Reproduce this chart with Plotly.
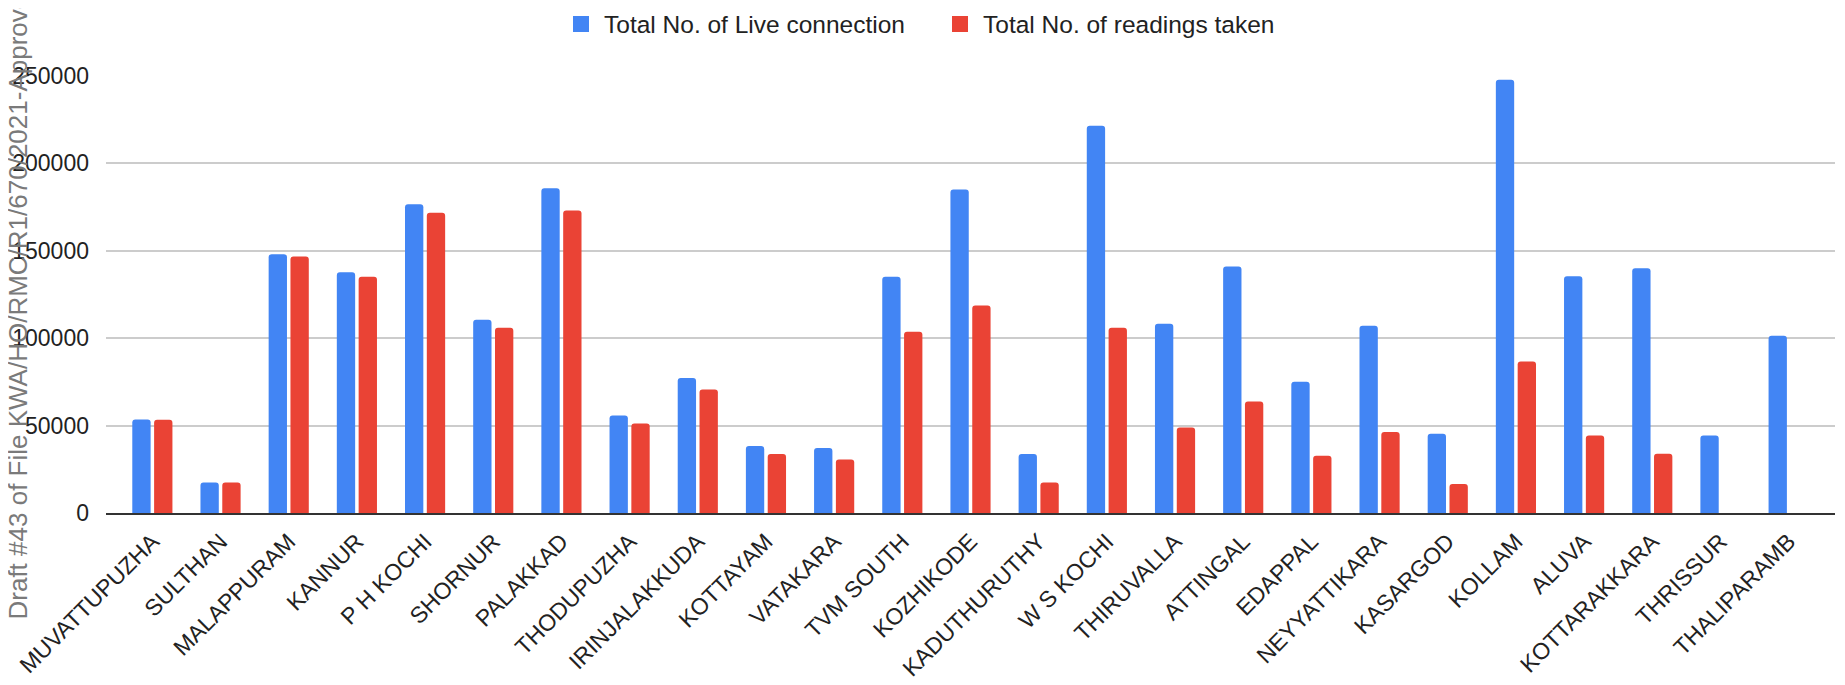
import plotly.graph_objects as go

categories = ["MUVATTUPUZHA", "SULTHAN", "MALAPPURAM", "KANNUR", "P H KOCHI", "SHORNUR",
              "PALAKKAD", "THODUPUZHA", "IRINJALAKKUDA", "KOTTAYAM", "VATAKARA", "TVM SOUTH",
              "KOZHIKODE", "KADUTHURUTHY", "W S KOCHI", "THIRUVALLA", "ATTINGAL", "EDAPPAL",
              "NEYYATTIKARA", "KASARGOD", "KOLLAM", "ALUVA", "KOTTARAKKARA", "THRISSUR",
              "THALIPARAMB"]
live_connections = [53400, 17500, 147900, 137600, 176500, 110500, 185600, 55700, 77200, 38300,
                    37200, 135100, 184900, 33800, 221400, 108200, 140900, 75100, 107100, 45300,
                    247700, 135300, 139900, 44300, 101300]
readings_taken = [53300, 17500, 146600, 135100, 171700, 105900, 172900, 51100, 70600, 33800,
                  30600, 103600, 118600, 17500, 105900, 48900, 63700, 32700, 46300, 16600,
                  86600, 44300, 33900, None, None]
series_names = ["Total No. of Live connection", "Total No. of readings taken"]
series_colors = ["#4285F4", "#EA4335"]
y_ticks = [0, 50000, 100000, 150000, 200000, 250000]
watermark = "Draft #43 of File KWA/HO/RMC/R1/670/2021-Approved"

# page body adds an 8px margin, so the figure is drawn 8px in from the window corner
W, H = 1837, 677
L, R, T, B = 98, 10, 67, 172
FONT = "Liberation Sans, Arial, sans-serif"

fig = go.Figure()
for vals, name, col in zip([live_connections, readings_taken], series_names, series_colors):
    fig.add_trace(go.Bar(x=categories, y=vals, name=name, showlegend=False,
                         marker=dict(color=col, cornerradius=3, line_width=0)))
# legend entries with larger square swatches
for name, col in zip(series_names, series_colors):
    fig.add_trace(go.Scatter(x=[None], y=[None], mode="markers", name=name,
                             marker=dict(symbol="square", size=21, color=col)))

n = len(categories)
fig.update_layout(
    width=W, height=H,
    margin=dict(l=L, r=R, t=T, b=B, pad=0, autoexpand=False),
    paper_bgcolor="white", plot_bgcolor="white",
    barmode="group", bargap=0.36, bargroupgap=0.16,
    font=dict(family=FONT, size=23, color="#222222"),
    showlegend=True,
    legend=dict(orientation="h", xref="container", yref="container",
                x=929 / W, xanchor="center", y=1 - 16 / H, yanchor="middle",
                font=dict(size=24.5, color="#222222"), itemwidth=36,
                entrywidth=328, bgcolor="rgba(0,0,0,0)"),
    xaxis=dict(showline=True, linecolor="#333333", linewidth=2, tickangle=-45,
               range=[-0.68, n - 0.32], automargin=False,
               showgrid=False, ticks="", ticklabelstandoff=4,
               tickfont=dict(size=23, color="#222222")),
    yaxis=dict(range=[0, 250400], tickvals=y_ticks, ticktext=[str(v) for v in y_ticks],
               showgrid=True, gridcolor="#cccccc", gridwidth=1.5, zeroline=False,
               showline=False, ticks="", ticklabelstandoff=16, automargin=False,
               tickfont=dict(size=23, color="#222222")),
    hovermode=False,
)

pw = W - L - R
ph = H - T - B
fig.add_annotation(text=watermark, xref="paper", yref="paper",
                   x=(9 - L) / pw, y=-(614 - (H - B)) / ph,
                   xanchor="center", yanchor="bottom", textangle=-90, showarrow=False,
                   font=dict(family=FONT, size=26, color="#7a7a7a"))

fig.write_html("out.html")
